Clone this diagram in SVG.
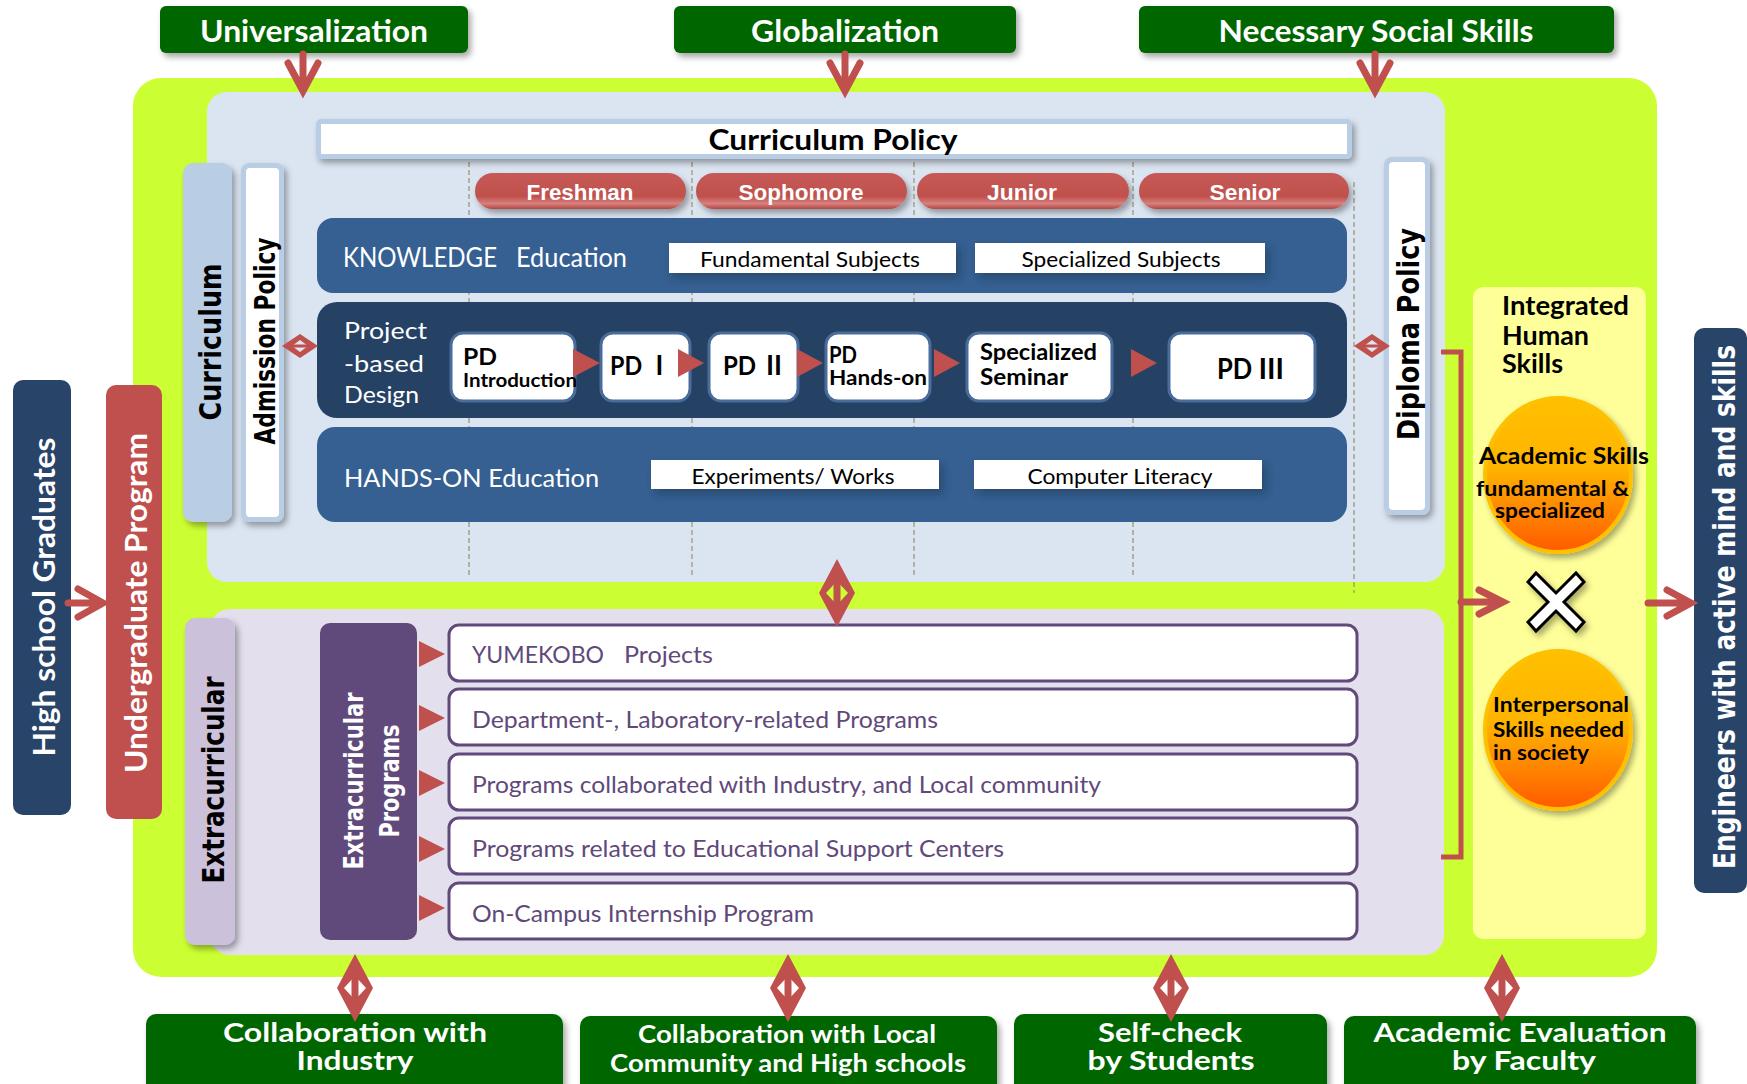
<svg xmlns="http://www.w3.org/2000/svg" xmlns:xlink="http://www.w3.org/1999/xlink" width="1747" height="1084" viewBox="0 0 1747 1084">
<defs>
<style>
.t{font-family:Lato,'Liberation Sans','Noto Sans CJK JP',sans-serif}
.ar{font-family:'Liberation Sans',Arial,sans-serif}
.vb{font-family:'DejaVu Sans',Verdana,sans-serif;font-weight:700}
.b{font-weight:700}
.w{fill:#fff}
.k{fill:#000}
.pu{fill:#5f497a}
.arw{fill:none;stroke:#c0504d;stroke-width:7;stroke-linecap:round;stroke-linejoin:miter}
.tri{fill:#c0504d}
.dia{fill:#c0504d;fill-rule:evenodd}
.grn{fill:#006600}
.wbox{fill:#fff}
.pd{fill:#fff;stroke:#4a6c9b;stroke-width:3}
.row{fill:#fff;stroke:#604a7b;stroke-width:3}
.dash{stroke:#9c9070;stroke-width:1.2;stroke-dasharray:5 3;fill:none}
.band{fill:#366092}
</style>
<filter id="sh" x="-20%" y="-20%" width="150%" height="170%">
<feDropShadow dx="3" dy="4" stdDeviation="3" flood-color="#000" flood-opacity="0.35"/>
</filter>
<filter id="sh2" x="-20%" y="-20%" width="150%" height="170%">
<feDropShadow dx="4" dy="5" stdDeviation="4" flood-color="#1a2a40" flood-opacity="0.45"/>
</filter>
<linearGradient id="pill" x1="0" y1="0" x2="0" y2="1">
<stop offset="0" stop-color="#c65a56"/>
<stop offset="0.65" stop-color="#c0504d"/>
<stop offset="0.85" stop-color="#d6817e"/>
<stop offset="1" stop-color="#b54541"/>
</linearGradient>
<linearGradient id="org" x1="0" y1="0" x2="0" y2="1">
<stop offset="0" stop-color="#ffc000"/>
<stop offset="0.45" stop-color="#ffb400"/>
<stop offset="1" stop-color="#ff5a00"/>
</linearGradient>
<g id="dv">
<path class="dia" d="M0,-34 L18,0 L0,34 L-18,0 Z M0,-12 L11,0 L0,12 L-11,0 Z"/>
<rect x="-3.5" y="-12" width="7" height="24" fill="#c0504d"/>
</g>
<g id="dh">
<path class="dia" d="M-18,0 L0,-12 L18,0 L0,12 Z M-8,0 L0,-6 L8,0 L0,6 Z"/>
<rect x="-8" y="-1.5" width="16" height="3" fill="#c0504d"/>
</g>
</defs>

<rect width="1747" height="1084" fill="#fff"/>

<!-- Top drivers -->
<g id="universalization">
<rect x="160" y="6" width="308" height="47" rx="6" class="grn" filter="url(#sh)"/>
<text class="t b w" x="314" y="42" font-size="31" text-anchor="middle" textLength="228" lengthAdjust="spacingAndGlyphs">Universalization</text>
</g>
<g id="globalization">
<rect x="674" y="6" width="342" height="47" rx="6" class="grn" filter="url(#sh)"/>
<text class="t b w" x="845" y="42" font-size="31" text-anchor="middle" textLength="188" lengthAdjust="spacingAndGlyphs">Globalization</text>
</g>
<g id="social-skills">
<rect x="1139" y="6" width="475" height="47" rx="6" class="grn" filter="url(#sh)"/>
<text class="t b w" x="1376" y="42" font-size="31" text-anchor="middle" textLength="315" lengthAdjust="spacingAndGlyphs">Necessary Social Skills</text>
</g>

<!-- Outer lime panel -->
<g id="outer-panel">
<rect x="133" y="78" width="1524" height="899" rx="28" fill="#ccff33"/>
</g>

<!-- Curriculum panel -->
<g id="curriculum-panel">
<rect x="207" y="92" width="1238" height="490" rx="20" fill="#dbe5f1"/>
<line class="dash" x1="469" y1="162" x2="469" y2="577"/>
<line class="dash" x1="692" y1="162" x2="692" y2="577"/>
<line class="dash" x1="914" y1="162" x2="914" y2="577"/>
<line class="dash" x1="1133" y1="162" x2="1133" y2="577"/>
<line class="dash" x1="1354" y1="182" x2="1354" y2="593"/>
</g>

<g id="curriculum-bar">
<rect x="183" y="163" width="49" height="359" rx="10" fill="#b9cde5" filter="url(#sh)"/>
<text class="vb k" transform="translate(221,342) rotate(-90)" font-size="31" text-anchor="middle" textLength="157" lengthAdjust="spacingAndGlyphs">Curriculum</text>
</g>
<g id="admission-policy">
<rect x="241" y="163" width="43" height="359" rx="8" fill="#b9cde5" filter="url(#sh)"/>
<rect x="246" y="168" width="33" height="349" rx="4" fill="#fff"/>
<text class="vb k" transform="translate(275,341) rotate(-90)" font-size="29" text-anchor="middle" textLength="207" lengthAdjust="spacingAndGlyphs">Admission Policy</text>
</g>
<g id="diploma-policy">
<rect x="1384" y="157" width="46" height="358" rx="8" fill="#b9cde5" filter="url(#sh)"/>
<rect x="1389" y="162" width="36" height="348" rx="4" fill="#fff"/>
<text class="vb k" transform="translate(1419,334) rotate(-90)" font-size="30" text-anchor="middle" textLength="212" lengthAdjust="spacingAndGlyphs">Diploma Policy</text>
</g>

<g id="curriculum-policy">
<rect x="316" y="119" width="1036" height="40" rx="5" fill="#b9cde5" filter="url(#sh)"/>
<rect x="321" y="124" width="1026" height="30" fill="#fff"/>
<text class="t b k" x="833" y="150" font-size="28" text-anchor="middle" textLength="249" lengthAdjust="spacingAndGlyphs">Curriculum Policy</text>
</g>

<g id="freshman">
<rect x="475" y="173" width="211" height="36" rx="18" fill="url(#pill)" filter="url(#sh)"/>
<text class="ar b w" x="580" y="200" font-size="22" text-anchor="middle" textLength="107" lengthAdjust="spacingAndGlyphs">Freshman</text>
</g>
<g id="sophomore">
<rect x="696" y="173" width="211" height="36" rx="18" fill="url(#pill)" filter="url(#sh)"/>
<text class="ar b w" x="801" y="200" font-size="22" text-anchor="middle" textLength="125" lengthAdjust="spacingAndGlyphs">Sophomore</text>
</g>
<g id="junior">
<rect x="917" y="173" width="212" height="36" rx="18" fill="url(#pill)" filter="url(#sh)"/>
<text class="ar b w" x="1022" y="200" font-size="22" text-anchor="middle" textLength="70" lengthAdjust="spacingAndGlyphs">Junior</text>
</g>
<g id="senior">
<rect x="1139" y="173" width="210" height="36" rx="18" fill="url(#pill)" filter="url(#sh)"/>
<text class="ar b w" x="1245" y="200" font-size="22" text-anchor="middle" textLength="71" lengthAdjust="spacingAndGlyphs">Senior</text>
</g>

<g id="knowledge-education">
<rect x="317" y="218" width="1030" height="75" rx="16" class="band"/>
<text class="t w" x="343" y="267" font-size="26" textLength="154" lengthAdjust="spacingAndGlyphs">KNOWLEDGE</text>
<text class="t w" x="516" y="267" font-size="26" textLength="111" lengthAdjust="spacingAndGlyphs">Education</text>
</g>
<g id="fundamental-subjects">
<rect x="669" y="243" width="287" height="30" class="wbox" filter="url(#sh2)"/>
<text class="t k" x="810" y="267" font-size="22" text-anchor="middle" textLength="220" lengthAdjust="spacingAndGlyphs">Fundamental Subjects</text>
</g>
<g id="specialized-subjects">
<rect x="975" y="243" width="290" height="30" class="wbox" filter="url(#sh2)"/>
<text class="t k" x="1121" y="267" font-size="22" text-anchor="middle" textLength="199" lengthAdjust="spacingAndGlyphs">Specialized Subjects</text>
</g>

<g id="project-based-design">
<rect x="317" y="302" width="1030" height="116" rx="20" fill="#254264"/>
<text class="t w" x="344" y="339" font-size="24" textLength="83" lengthAdjust="spacingAndGlyphs">Project</text>
<text class="t w" x="344" y="372" font-size="24" textLength="80" lengthAdjust="spacingAndGlyphs">-based</text>
<text class="t w" x="344" y="403" font-size="24" textLength="75" lengthAdjust="spacingAndGlyphs">Design</text>
</g>
<g id="pd-introduction">
<rect x="451" y="333" width="124" height="68" rx="12" class="pd"/>
<text class="t b k" x="463" y="365" font-size="23" textLength="34" lengthAdjust="spacingAndGlyphs">PD</text>
<text class="t b k" x="463" y="387" font-size="18" textLength="114" lengthAdjust="spacingAndGlyphs">Introduction</text>
</g>
<g id="pd-1">
<rect x="601" y="333" width="89" height="68" rx="12" class="pd"/>
<text class="t b k" x="610" y="375" font-size="26" textLength="61" lengthAdjust="spacingAndGlyphs">PD Ⅰ</text>
</g>
<g id="pd-2">
<rect x="709" y="333" width="89" height="68" rx="12" class="pd"/>
<text class="t b k" x="723" y="375" font-size="26" textLength="63" lengthAdjust="spacingAndGlyphs">PD Ⅱ</text>
</g>
<g id="pd-hands-on">
<rect x="826" y="333" width="104" height="68" rx="12" class="pd"/>
<text class="t b k" x="829" y="363" font-size="22" textLength="28" lengthAdjust="spacingAndGlyphs">PD</text>
<text class="t b k" x="829" y="385" font-size="20" textLength="98" lengthAdjust="spacingAndGlyphs">Hands-on</text>
</g>
<g id="specialized-seminar">
<rect x="967" y="333" width="145" height="68" rx="12" class="pd"/>
<text class="t b k" x="980" y="360" font-size="22" textLength="117" lengthAdjust="spacingAndGlyphs">Specialized</text>
<text class="t b k" x="980" y="385" font-size="22" textLength="88" lengthAdjust="spacingAndGlyphs">Seminar</text>
</g>
<g id="pd-3">
<rect x="1169" y="333" width="146" height="68" rx="12" class="pd"/>
<text class="t b k" x="1217" y="379" font-size="28" textLength="67" lengthAdjust="spacingAndGlyphs">PD Ⅲ</text>
</g>

<g id="hands-on-education">
<rect x="317" y="427" width="1030" height="95" rx="18" class="band"/>
<text class="t w" x="344" y="487" font-size="25" textLength="255" lengthAdjust="spacingAndGlyphs">HANDS-ON Education</text>
</g>
<g id="experiments-works">
<rect x="651" y="460" width="288" height="29" class="wbox" filter="url(#sh2)"/>
<text class="t k" x="793" y="484" font-size="21" text-anchor="middle" textLength="203" lengthAdjust="spacingAndGlyphs">Experiments/ Works</text>
</g>
<g id="computer-literacy">
<rect x="974" y="460" width="288" height="29" class="wbox" filter="url(#sh2)"/>
<text class="t k" x="1120" y="484" font-size="21" text-anchor="middle" textLength="185" lengthAdjust="spacingAndGlyphs">Computer Literacy</text>
</g>

<!-- Extracurricular panel -->
<g id="extracurricular-panel">
<rect x="210" y="609" width="1234" height="346" rx="20" fill="#e4dfec"/>
</g>
<g id="extracurricular-bar">
<rect x="185" y="618" width="50" height="327" rx="10" fill="#ccc1da" filter="url(#sh)"/>
<text class="vb k" transform="translate(224,780) rotate(-90)" font-size="31" text-anchor="middle" textLength="207" lengthAdjust="spacingAndGlyphs">Extracurricular</text>
</g>
<g id="extracurricular-programs">
<rect x="320" y="623" width="97" height="317" rx="10" fill="#604a7b"/>
<text class="vb w" transform="translate(363,781) rotate(-90)" font-size="26" text-anchor="middle" textLength="177" lengthAdjust="spacingAndGlyphs">Extracurricular</text>
<text class="vb w" transform="translate(399,781) rotate(-90)" font-size="26" text-anchor="middle" textLength="113" lengthAdjust="spacingAndGlyphs">Programs</text>
</g>
<g id="yumekobo">
<rect x="449" y="625" width="908" height="56" rx="10" class="row"/>
<text class="t pu" x="472" y="663" font-size="23" textLength="132" lengthAdjust="spacingAndGlyphs">YUMEKOBO</text>
<text class="t pu" x="624" y="663" font-size="23" textLength="89" lengthAdjust="spacingAndGlyphs">Projects</text>
</g>
<g id="department-programs">
<rect x="449" y="689" width="908" height="56" rx="10" class="row"/>
<text class="t pu" x="472" y="728" font-size="23" textLength="466" lengthAdjust="spacingAndGlyphs">Department-, Laboratory-related Programs</text>
</g>
<g id="industry-programs">
<rect x="449" y="754" width="908" height="56" rx="10" class="row"/>
<text class="t pu" x="472" y="793" font-size="23" textLength="629" lengthAdjust="spacingAndGlyphs">Programs collaborated with Industry, and Local community</text>
</g>
<g id="support-center-programs">
<rect x="449" y="818" width="908" height="56" rx="10" class="row"/>
<text class="t pu" x="472" y="857" font-size="23" textLength="532" lengthAdjust="spacingAndGlyphs">Programs related to Educational Support Centers</text>
</g>
<g id="internship-program">
<rect x="449" y="883" width="908" height="56" rx="10" class="row"/>
<text class="t pu" x="472" y="922" font-size="23" textLength="342" lengthAdjust="spacingAndGlyphs">On-Campus Internship Program</text>
</g>

<!-- Integrated human skills -->
<g id="integrated-human-skills">
<rect x="1473" y="287" width="173" height="652" rx="10" fill="#ffff99"/>
<text class="t b k" x="1502" y="315" font-size="26" textLength="127" lengthAdjust="spacingAndGlyphs">Integrated</text>
<text class="t b k" x="1502" y="345" font-size="26" textLength="87" lengthAdjust="spacingAndGlyphs">Human</text>
<text class="t b k" x="1502" y="373" font-size="26" textLength="61" lengthAdjust="spacingAndGlyphs">Skills</text>
</g>
<g id="academic-skills">
<ellipse cx="1558" cy="475" rx="73" ry="77" fill="url(#org)" stroke="#ffc000" stroke-width="4" filter="url(#sh)"/>
<text class="t b k" x="1479" y="464" font-size="23" textLength="170" lengthAdjust="spacingAndGlyphs">Academic Skills</text>
<text class="t b k" x="1476" y="496" font-size="21" textLength="153" lengthAdjust="spacingAndGlyphs">fundamental &amp;</text>
<text class="t b k" x="1495" y="518" font-size="21" textLength="110" lengthAdjust="spacingAndGlyphs">specialized</text>
</g>
<g id="times-mark">
<path d="M1528,582 L1536,573 L1556,593 L1576,573 L1584,582 L1564,602 L1584,622 L1576,631 L1556,611 L1536,631 L1528,622 L1548,602 Z" fill="#fff" stroke="#000" stroke-width="3" stroke-linejoin="miter" filter="url(#sh)"/>
</g>
<g id="interpersonal-skills">
<ellipse cx="1558" cy="730" rx="73" ry="79" fill="url(#org)" stroke="#ffc000" stroke-width="4" filter="url(#sh)"/>
<text class="t b k" x="1493" y="712" font-size="20" textLength="136" lengthAdjust="spacingAndGlyphs">Interpersonal</text>
<text class="t b k" x="1493" y="737" font-size="20" textLength="131" lengthAdjust="spacingAndGlyphs">Skills needed</text>
<text class="t b k" x="1493" y="760" font-size="20" textLength="96" lengthAdjust="spacingAndGlyphs">in society</text>
</g>

<!-- Left / right -->
<g id="high-school-graduates">
<rect x="13" y="380" width="58" height="435" rx="10" fill="#284468"/>
<text class="t b w" transform="translate(55,597) rotate(-90)" font-size="30" text-anchor="middle" textLength="319" lengthAdjust="spacingAndGlyphs">High school Graduates</text>
</g>
<g id="undergraduate-program">
<rect x="106" y="385" width="56" height="434" rx="10" fill="#c0504d"/>
<text class="t b w" transform="translate(147,603) rotate(-90)" font-size="31" text-anchor="middle" textLength="340" lengthAdjust="spacingAndGlyphs">Undergraduate Program</text>
</g>
<g id="engineers">
<rect x="1694" y="328" width="53" height="565" rx="10" fill="#284468"/>
<text class="vb w" transform="translate(1735,607) rotate(-90)" font-size="31" text-anchor="middle" textLength="524" lengthAdjust="spacingAndGlyphs">Engineers with active mind and skills</text>
</g>

<!-- Bottom evaluators -->
<g id="collaboration-industry">
<rect x="146" y="1014" width="417" height="90" rx="10" class="grn" filter="url(#sh)"/>
<text class="t b w" x="355" y="1042" font-size="27" text-anchor="middle" textLength="264" lengthAdjust="spacingAndGlyphs">Collaboration with</text>
<text class="t b w" x="355" y="1070" font-size="27" text-anchor="middle" textLength="117" lengthAdjust="spacingAndGlyphs">Industry</text>
</g>
<g id="collaboration-community">
<rect x="580" y="1016" width="417" height="90" rx="10" class="grn" filter="url(#sh)"/>
<text class="t b w" x="787" y="1043" font-size="24" text-anchor="middle" textLength="298" lengthAdjust="spacingAndGlyphs">Collaboration with Local</text>
<text class="t b w" x="788" y="1072" font-size="24" text-anchor="middle" textLength="356" lengthAdjust="spacingAndGlyphs">Community and High schools</text>
</g>
<g id="self-check">
<rect x="1014" y="1014" width="313" height="90" rx="10" class="grn" filter="url(#sh)"/>
<text class="t b w" x="1170" y="1042" font-size="27" text-anchor="middle" textLength="144" lengthAdjust="spacingAndGlyphs">Self-check</text>
<text class="t b w" x="1171" y="1070" font-size="27" text-anchor="middle" textLength="167" lengthAdjust="spacingAndGlyphs">by Students</text>
</g>
<g id="academic-evaluation">
<rect x="1344" y="1016" width="352" height="90" rx="10" class="grn" filter="url(#sh)"/>
<text class="t b w" x="1520" y="1042" font-size="27" text-anchor="middle" textLength="293" lengthAdjust="spacingAndGlyphs">Academic Evaluation</text>
<text class="t b w" x="1524" y="1070" font-size="27" text-anchor="middle" textLength="144" lengthAdjust="spacingAndGlyphs">by Faculty</text>
</g>

<!-- Connectors -->
<g id="connectors">
<path class="arw" d="M303,54 V88 M288,63 L303,91 L318,63"/>
<path class="arw" d="M845,54 V88 M830,63 L845,91 L860,63"/>
<path class="arw" d="M1375,54 V88 M1360,63 L1375,91 L1390,63"/>
<path class="arw" d="M68,603 H100 M78,589 L103,603 L78,617"/>
<path fill="none" stroke="#c0504d" stroke-width="5" d="M1441,352 H1461 V857 H1441"/>
<path class="arw" d="M1461,602 H1499 M1479,590 L1503,602 L1479,614"/>
<path class="arw" d="M1648,603 H1687 M1667,590 L1691,603 L1667,616"/>
<polygon class="tri" points="573,349 600,363 573,377"/>
<polygon class="tri" points="678,349 704,363 678,377"/>
<polygon class="tri" points="797,349 823,363 797,377"/>
<polygon class="tri" points="934,349 960,363 934,377"/>
<polygon class="tri" points="1131,349 1157,363 1131,377"/>
<polygon class="tri" points="419,641 445,654 419,667"/>
<polygon class="tri" points="419,705 445,718 419,731"/>
<polygon class="tri" points="419,770 445,783 419,796"/>
<polygon class="tri" points="419,836 445,849 419,862"/>
<polygon class="tri" points="419,895 445,908 419,921"/>
<use xlink:href="#dh" x="300" y="346"/>
<use xlink:href="#dh" x="1372" y="346"/>
<use xlink:href="#dv" x="837" y="593"/>
<use xlink:href="#dv" x="355" y="988"/>
<use xlink:href="#dv" x="788" y="988"/>
<use xlink:href="#dv" x="1171" y="988"/>
<use xlink:href="#dv" x="1502" y="988"/>
</g>
</svg>
